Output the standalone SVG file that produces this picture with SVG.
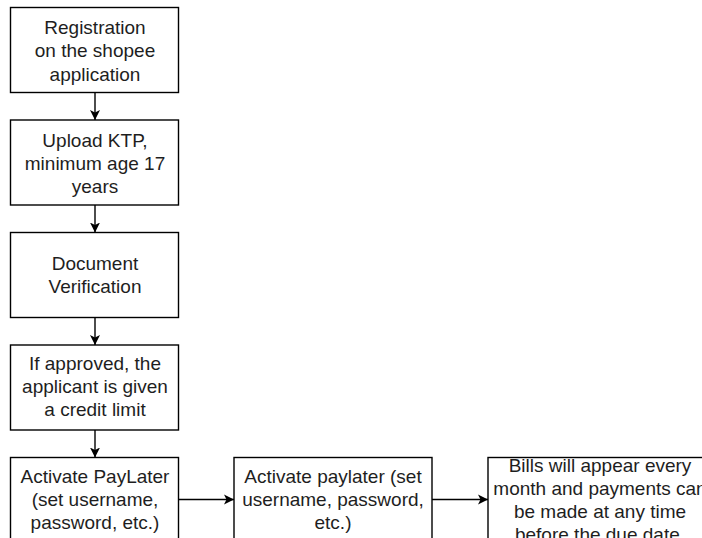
<svg xmlns="http://www.w3.org/2000/svg" width="702" height="538" viewBox="0 0 702 538">
<style>
.box{fill:#fff;stroke:#000;stroke-width:1.4}
.t{font-family:"Liberation Sans",Arial,sans-serif;font-size:19px;fill:#1e1e1e;text-anchor:middle}
.c{stroke:#000;stroke-width:1.4;fill:none;marker-end:url(#ah)}
</style>
<defs>
<marker id="ah" markerWidth="12" markerHeight="12" refX="10" refY="6" orient="auto" markerUnits="userSpaceOnUse">
<path d="M0,1 L10,6 L0,11 L2.5,6 Z" fill="#000"/>
</marker>
</defs>
<rect width="702" height="538" fill="#fff"/>
<g id="connectors">
<line class="c" x1="95" y1="92.5" x2="95" y2="120"/>
<line class="c" x1="95" y1="205" x2="95" y2="232.5"/>
<line class="c" x1="95" y1="317.5" x2="95" y2="345"/>
<line class="c" x1="95" y1="430" x2="95" y2="457.5"/>
<line class="c" x1="179" y1="499.5" x2="234" y2="499.5"/>
<line class="c" x1="432" y1="499.5" x2="488" y2="499.5"/>
</g>
<g id="n1">
<rect class="box" x="10.5" y="7.5" width="168" height="85"/>
<text class="t" x="95" y="33.5">Registration</text>
<text class="t" x="95" y="57">on the shopee</text>
<text class="t" x="95" y="80.5">application</text>
</g>
<g id="n2">
<rect class="box" x="10.5" y="120" width="168" height="85"/>
<text class="t" x="95" y="146.5">Upload KTP,</text>
<text class="t" x="95" y="169.5">minimum age 17</text>
<text class="t" x="95" y="192.5">years</text>
</g>
<g id="n3">
<rect class="box" x="10.5" y="232.5" width="168" height="85"/>
<text class="t" x="95" y="269.5">Document</text>
<text class="t" x="95" y="292.5">Verification</text>
</g>
<g id="n4">
<rect class="box" x="10.5" y="345" width="168" height="85"/>
<text class="t" x="95" y="369.5">If approved, the</text>
<text class="t" x="95" y="392.5">applicant is given</text>
<text class="t" x="95" y="415.5">a credit limit</text>
</g>
<g id="n5">
<rect class="box" x="10.5" y="457.5" width="168" height="85"/>
<text class="t" x="95" y="483">Activate PayLater</text>
<text class="t" x="95" y="506">(set username,</text>
<text class="t" x="95" y="529">password, etc.)</text>
</g>
<g id="n6">
<rect class="box" x="234" y="457.5" width="198" height="85"/>
<text class="t" x="333" y="483">Activate paylater (set</text>
<text class="t" x="333" y="506">username, password,</text>
<text class="t" x="333" y="529">etc.)</text>
</g>
<g id="n7">
<rect class="box" x="488" y="457.5" width="226" height="85"/>
<text class="t" x="600" y="471.5">Bills will appear every</text>
<text class="t" x="600" y="494.5">month and payments can</text>
<text class="t" x="600" y="517.5">be made at any time</text>
<text class="t" x="600" y="540.5">before the due date.</text>
</g>
</svg>
